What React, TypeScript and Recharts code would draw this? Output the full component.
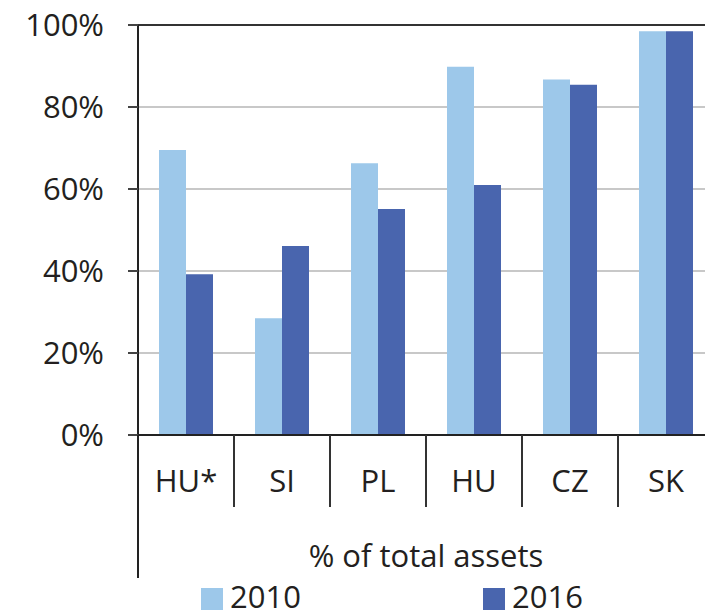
import { BarChart, Bar, XAxis, YAxis, CartesianGrid, ReferenceLine, Legend } from 'recharts';

const countries = ['HU*', 'SI', 'PL', 'HU', 'CZ', 'SK'];
const share2010 = [69.5, 28.5, 66.3, 89.8, 86.7, 98.5];
const share2016 = [39.2, 46.1, 55.1, 61.0, 85.4, 98.5];
const yTicks = [0, 20, 40, 60, 80, 100];
const seriesNames = ['2010', '2016'];
const COLORS = ['#9DC8EA', '#4965AE'];

const FONT = '"Open Sans", Lato, sans-serif';
const TEXT = '#231F20';

const W = 720;
const H = 616;
const MARGIN = { top: 25, right: 6, left: 0, bottom: 0 };
const Y_W = 138;
const BAND = (W - MARGIN.left - MARGIN.right - Y_W) / countries.length;

const data = countries.map((c, i) => ({
  country: c,
  y2010: share2010[i],
  y2016: share2016[i],
}));

function CountryTick(props: any) {
  const { x, y, payload, index } = props;
  return (
    <g>
      <text x={x} y={y + 57} textAnchor="middle" fontSize={31} fill={TEXT} fontFamily={FONT}>
        {payload.value}
      </text>
      <line x1={x + BAND / 2} x2={x + BAND / 2} y1={y} y2={y + 72} stroke="#333" strokeWidth={2} />
      {index === 0 && (
        <line x1={x - BAND / 2} x2={x - BAND / 2} y1={y} y2={y + 143} stroke="#222" strokeWidth={2} />
      )}
    </g>
  );
}

function YearLegend() {
  const lefts = [201, 483];
  return (
    <div style={{ position: 'relative', height: 40, fontFamily: FONT, color: TEXT }}>
      {seriesNames.map((name, i) => (
        <div key={name} style={{ position: 'absolute', left: lefts[i], top: 3, height: 34, display: 'flex', alignItems: 'flex-end' }}>
          <span style={{ display: 'inline-block', width: 22, height: 22, background: COLORS[i], marginRight: 7, marginBottom: 3 }} />
          <span style={{ fontSize: 31, lineHeight: '34px', height: 34 }}>{name}</span>
        </div>
      ))}
    </div>
  );
}

export default function App() {
  return (
    <div style={{ position: 'absolute', left: 0, top: 0, width: 705, height: 616, overflow: 'hidden', background: '#fff' }}>
      <BarChart width={W} height={H} data={data} margin={MARGIN} barGap={0} barCategoryGap={21}>
        <CartesianGrid horizontal vertical={false} stroke="#C8C8C8" strokeWidth={2} />
        <XAxis
          dataKey="country"
          height={141}
          axisLine={{ stroke: '#222', strokeWidth: 2 }}
          tickLine={false}
          tickSize={0}
          tickMargin={0}
          interval={0}
          tick={<CountryTick />}
          label={{ value: '% of total assets', position: 'insideBottom', offset: 9, fontSize: 31, fill: TEXT, fontFamily: FONT }}
        />
        <YAxis
          width={Y_W}
          domain={[0, 100]}
          ticks={yTicks}
          tickFormatter={(v: number) => `${v}%`}
          axisLine={{ stroke: '#222', strokeWidth: 2 }}
          tickLine={{ stroke: '#444', strokeWidth: 2 }}
          tickSize={10}
          tickMargin={24}
          tick={{ fontSize: 31, fill: TEXT, fontFamily: FONT }}
        />
        <ReferenceLine y={100} stroke="#333" strokeWidth={2} />
        <Bar dataKey="y2010" name={seriesNames[0]} fill={COLORS[0]} isAnimationActive={false} />
        <Bar dataKey="y2016" name={seriesNames[1]} fill={COLORS[1]} isAnimationActive={false} />
        <Legend verticalAlign="bottom" content={<YearLegend />} wrapperStyle={{ left: 0, bottom: 0, width: W }} />
      </BarChart>
    </div>
  );
}
